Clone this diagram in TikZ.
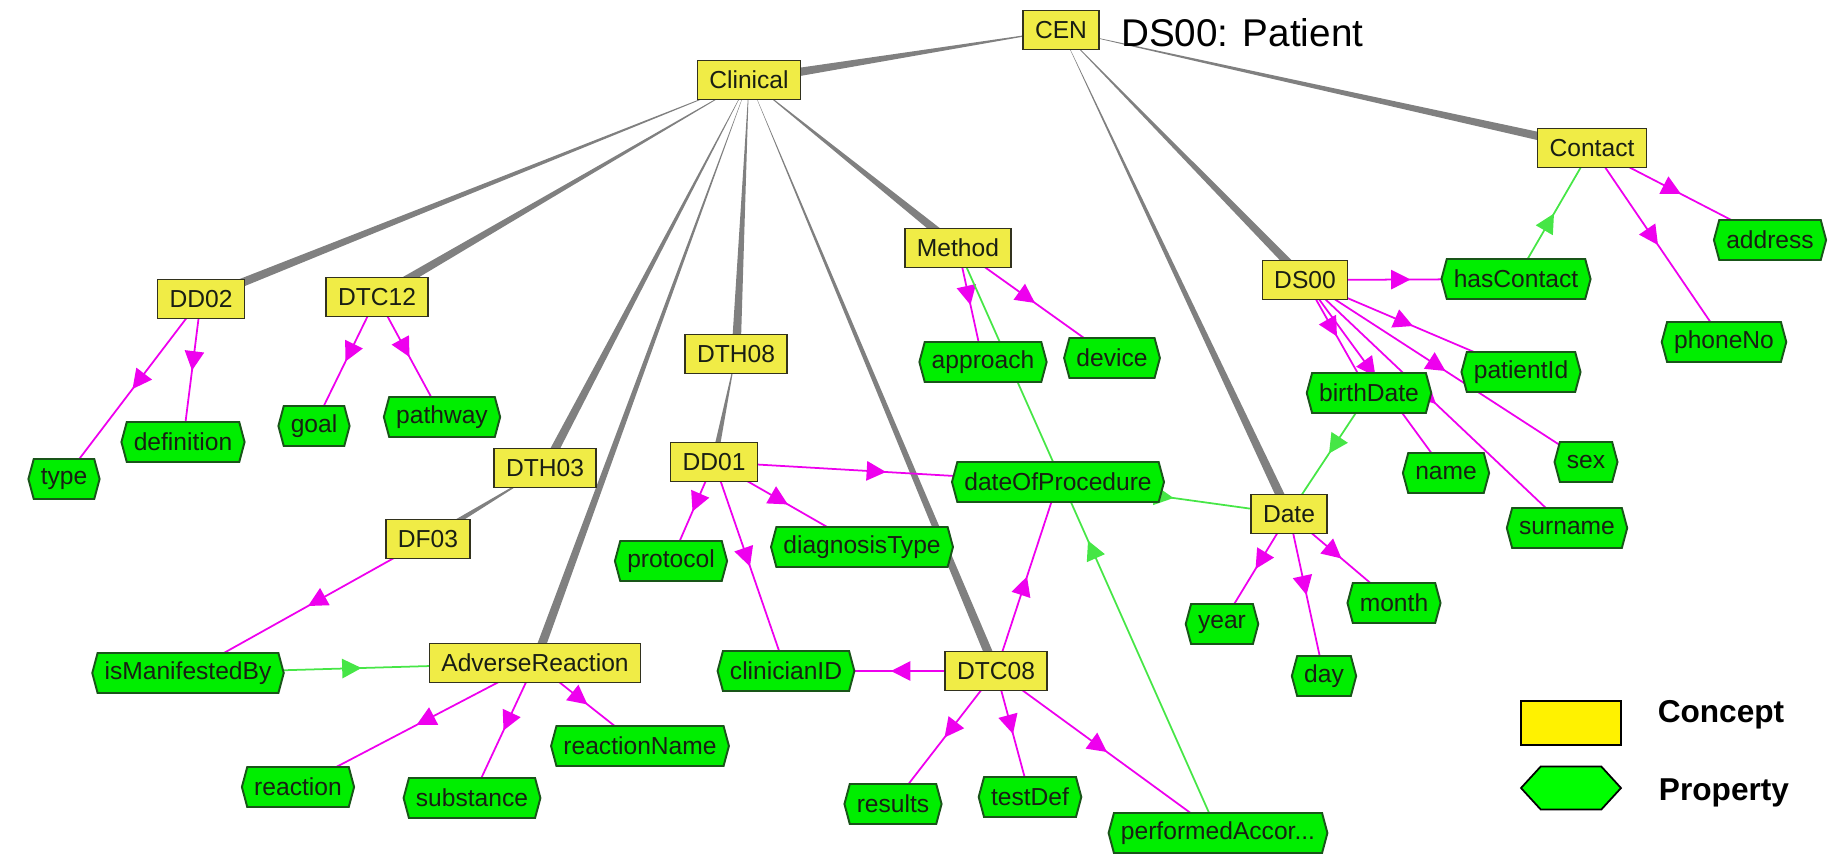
\documentclass[tikz,border=0pt]{standalone}
\usepackage{fontspec}
\setmainfont{Liberation Sans}
\usetikzlibrary{positioning,shapes.symbols,arrows.meta,calc,decorations.markings,backgrounds}

\definecolor{conceptyellow}{RGB}{240,236,70}
\definecolor{conceptline}{RGB}{50,50,30}
\definecolor{propgreen}{RGB}{0,238,0}
\definecolor{propline}{RGB}{25,85,25}
\definecolor{nodetext}{RGB}{25,30,20}
\definecolor{propmagenta}{RGB}{238,0,238}
\definecolor{rangegreen}{RGB}{70,230,70}
\definecolor{edgegray}{RGB}{128,128,128}

% tapered gray edge, thin at the parent, thick at the child
\newcommand{\taper}[3][2.6pt]{\fill[edgegray] (#2.center) -- ($(#3.center)!#1!90:(#2.center)$) -- ($(#3.center)!#1!-90:(#2.center)$) -- cycle;}

\tikzset{
  concept/.style={draw=conceptline, fill=conceptyellow, rectangle, line width=0.8pt, minimum height=0.78cm, inner xsep=0.24cm, text=nodetext, font=\fontsize{14}{16}\selectfont},
  property/.style={signal, signal to=east and west, signal pointer angle=150, draw=propline, fill=propgreen, line width=1.1pt, minimum height=0.8cm, inner xsep=0.14cm, text=nodetext, font=\fontsize{14}{16}\selectfont},
  midarrow/.style={postaction={decorate}, decoration={markings, mark=at position 0.5 with {\arrow{Triangle[length=11pt,width=11pt]}}}},
  hasprop/.style={color=propmagenta, line width=1pt, midarrow},
  rangeof/.style={color=rangegreen, line width=1pt, midarrow},
}

\begin{document}
\begin{tikzpicture}[x=0.02cm, y=-0.02cm]
    \useasboundingbox (0,0) rectangle (1833,853);

    % Concepts
    \node[concept] (CEN) at (1061, 30) {CEN};
    \node[anchor=west, font=\fontsize{22}{24}\selectfont] (title) at (1115, 33) {DS00: Patient};
    \node[concept] (Clinical) at (749, 80) {Clinical};
    \node[concept] (Contact) at (1592, 148) {Contact};
    \node[concept] (DS00) at (1305, 280) {DS00};
    \node[concept] (Method) at (958, 248) {Method};
    \node[concept] (DD02) at (201, 299) {DD02};
    \node[concept] (DTC12) at (377, 297) {DTC12};
    \node[concept] (DTH08) at (736, 354) {DTH08};
    \node[concept] (DTH03) at (545, 468) {DTH03};
    \node[concept] (DF03) at (428, 539) {DF03};
    \node[concept] (DD01) at (714, 462) {DD01};
    \node[concept] (Date) at (1289, 514) {Date};
    \node[concept] (DTC08) at (996, 671) {DTC08};
    \node[concept] (AdverseReaction) at (535, 663) {AdverseReaction};

    % Properties
    \node[property] (address) at (1770, 240) {address};
    \node[property] (phoneNo) at (1724, 342) {phoneNo};
    \node[property] (hasContact) at (1516, 279) {hasContact};
    \node[property] (approach) at (983, 362) {approach};
    \node[property] (device) at (1112, 358) {device};
    \node[property] (type) at (64, 479) {type};
    \node[property] (definition) at (183, 442) {definition};
    \node[property] (goal) at (314, 426) {goal};
    \node[property] (pathway) at (442, 417) {pathway};
    \node[property] (dateOfProcedure) at (1058, 482) {dateOfProcedure};
    \node[property] (birthDate) at (1369, 393) {birthDate};
    \node[property] (patientId) at (1521, 372) {patientId};
    \node[property] (name) at (1446, 473) {name};
    \node[property] (sex) at (1586, 462) {sex};
    \node[property] (surname) at (1567, 528) {surname};
    \node[property] (protocol) at (671, 561) {protocol};
    \node[property] (diagnosisType) at (862, 547) {diagnosisType};
    \node[property] (clinicianID) at (786, 671) {clinicianID};
    \node[property] (year) at (1222, 624) {year};
    \node[property] (month) at (1394, 603) {month};
    \node[property] (day) at (1324, 676) {day};
    \node[property] (isManifestedBy) at (188, 673) {isManifestedBy};
    \node[property] (reaction) at (298, 787) {reaction};
    \node[property] (substance) at (472, 798) {substance};
    \node[property] (reactionName) at (640, 746) {reactionName};
    \node[property] (results) at (893, 804) {results};
    \node[property] (testDef) at (1030, 797) {testDef};
    \node[property] (performedAccor) at (1218, 833) {performedAccor...};

    % Legend
    \node[draw=black, fill=yellow, line width=1pt, minimum width=2cm, minimum height=0.88cm] (keyConcept) at (1571, 723) {};
    \node[signal, signal to=east and west, signal pointer angle=95, draw=black, fill=green, line width=1pt, minimum width=2cm, minimum height=0.86cm] (keyProperty) at (1571, 788) {};
    \node[font=\bfseries\fontsize{18}{20}\selectfont] (keyConceptText) at (1721, 715) {Concept};
    \node[font=\bfseries\fontsize{18}{20}\selectfont] (keyPropertyText) at (1724, 793) {Property};

    % Connections
    \begin{pgfonlayer}{background}
        \taper[2.8pt]{CEN}{Clinical}
        \foreach \a/\b in {CEN/Contact, CEN/DS00, CEN/Date, Clinical/DD02, Clinical/DTC12, Clinical/DTH03, Clinical/AdverseReaction, Clinical/DTH08, Clinical/DTC08, Clinical/Method} {
            \taper{\a}{\b}
        }
        \taper[1.8pt]{DTH08}{DD01}
        \taper[1.8pt]{DTH03}{DF03}

        \foreach \a/\b in {DD02/type, DD02/definition, DTC12/goal, DTC12/pathway, DF03/isManifestedBy,
            AdverseReaction/reaction, AdverseReaction/substance, AdverseReaction/reactionName,
            DD01/protocol, DD01/clinicianID, DD01/diagnosisType, DD01/dateOfProcedure,
            DTC08/clinicianID, DTC08/results, DTC08/testDef, DTC08/performedAccor, DTC08/dateOfProcedure,
            Method/approach, Method/device,
            DS00/hasContact, DS00/birthDate, DS00/patientId, DS00/name, DS00/sex, DS00/surname,
            Contact/address, Contact/phoneNo, Date/year, Date/day, Date/month} {
            \draw[hasprop] (\a.center) -- (\b.center);
        }

        \foreach \a/\b in {isManifestedBy/AdverseReaction, hasContact/Contact, birthDate/Date, dateOfProcedure/Date, performedAccor/Method} {
            \draw[rangeof] (\a.center) -- (\b.center);
        }
    \end{pgfonlayer}
\end{tikzpicture}
\end{document}
